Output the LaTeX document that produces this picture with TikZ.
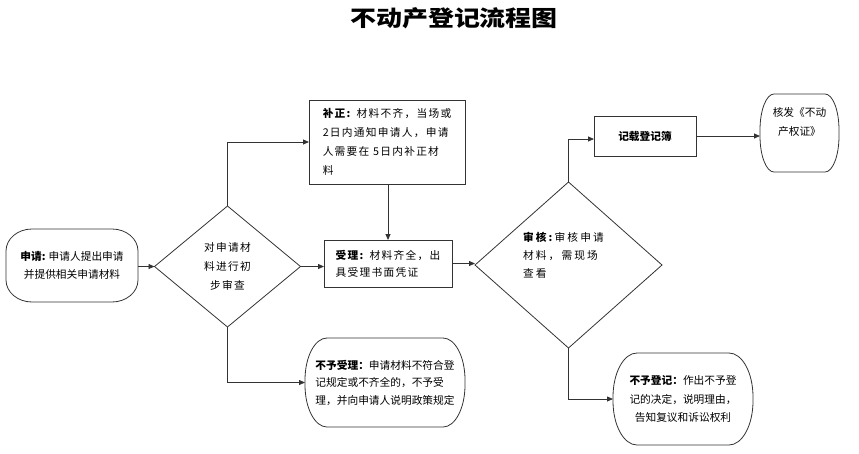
\documentclass[tikz,border=0pt]{standalone}
\usepackage{fontspec}
\usepackage{graphicx}
\setmainfont{Noto Sans CJK SC}
\newfontfamily\spfont[LetterSpace=12]{Noto Sans CJK SC}
\newfontfamily\spwfont[LetterSpace=20]{Noto Sans CJK SC}
\usetikzlibrary{shapes.geometric,arrows.meta}
\newcommand\ovbox[3]{%
  \draw[line] ([xshift=#2]#1.north west) -- ([xshift=-#2]#1.north east)
    arc[start angle=90,end angle=0,x radius=#2,y radius=#3]
    -- ([yshift=#3]#1.south east)
    arc[start angle=0,end angle=-90,x radius=#2,y radius=#3]
    -- ([xshift=#2]#1.south west)
    arc[start angle=270,end angle=180,x radius=#2,y radius=#3]
    -- ([yshift=-#3]#1.north west)
    arc[start angle=180,end angle=90,x radius=#2,y radius=#3] -- cycle;}
\begin{document}
\begin{tikzpicture}[x=1pt,y=-1pt,
  every node/.style={inner sep=0pt,outer sep=0pt,text=black},
  line/.style={draw=black!80,line width=0.8pt},
  box/.style={line,rectangle},
  obox/.style={rectangle,draw=none},
  dia/.style={line,diamond},
  conn/.style={line,-{Triangle[length=6pt,width=5pt]}},
  txt/.style={font=\fontsize{10.7}{18.5}\selectfont},
  sptxt/.style={font=\fontsize{10.7}{19}\spfont},
]
\useasboundingbox (0,0) rectangle (859,453);

\node (title) at (454,18) {\scalebox{1.18}[1]{\fontsize{22}{22}\selectfont\bfseries 不动产登记流程图}};

% start box
\node[obox,minimum width=132pt,minimum height=73pt,txt,align=center] (sq) at (72,265.5)
  {\textbf{申请:} 申请人提出申请\\并提供相关申请材料};
\ovbox{sq}{26pt}{22pt}

% first diamond
\node[dia,minimum width=146pt,minimum height=121pt,sptxt,align=center] (d1) at (227.5,266.5)
  {对申请材\\料进行初\\步审查};

% 补正
\node[box,minimum width=156pt,minimum height=84pt,sptxt,align=left] (bz) at (387,142)
  {\textbf{补正:} 材料不齐，当场或\\2日内通知申请人，申请\\人需要在 5日内补正材\\料};

% 受理
\node[box,minimum width=128pt,minimum height=47pt,font=\fontsize{10.7}{17}\spfont,align=left] (sl) at (388,263.5)
  {\textbf{受理:} 材料齐全，出\\具受理书面凭证};

% second diamond
\node[dia,minimum width=187pt,minimum height=166pt] (d2) at (568.5,265) {};
\node[anchor=west,font=\fontsize{10.7}{18}\spwfont,align=left] (d2t) at (523,255)
  {\textbf{审核:}审核申请\\材料，需现场\\查看};

% 记载登记簿
\node[box,minimum width=102pt,minimum height=40pt,txt] (jz) at (645,136)
  {\textbf{记载登记簿}};

% 核发
\node[obox,minimum width=79pt,minimum height=78pt,font=\fontsize{10.7}{19}\selectfont,align=center] (hf) at (799.5,133)
  {核发《不动\\产权证》\\[4pt]};
\ovbox{hf}{14pt}{36pt}

% 不予受理
\node[obox,minimum width=160pt,minimum height=89pt,font=\fontsize{10.7}{17.5}\selectfont,align=left] (bysl) at (385,382.5)
  {\textbf{不予受理：}申请材料不符合登\\记规定或不齐全的，不予受\\理，并向申请人说明政策规定};
\ovbox{bysl}{22pt}{42pt}

% 不予登记
\node[obox,minimum width=140pt,minimum height=92pt,font=\fontsize{10.7}{18.5}\selectfont,align=center] (bydj) at (683,399)
  {\textbf{不予登记：}作出不予登\\记的决定，说明理由，\\告知复议和诉讼权利};
\ovbox{bydj}{24pt}{44pt}

% connectors
\draw[conn] (sq.east |- d1.west) -- (d1.west);
\draw[conn] (d1.north) |- (bz.west);
\draw[conn] (d1.east) -- (d1.east -| sl.west);
\draw[conn] (bz.south -| sl.north) -- (sl.north);
\draw[conn] (d1.south) |- (bysl.west);
\draw[conn] (sl.east) -- (sl.east -| d2.west);
\draw[conn] (d2.north) |- ([yshift=-3pt]jz.west);
\draw[conn] (jz.east) -- (jz.east -| hf.west);
\draw[conn] (d2.south) |- (bydj.west);
\end{tikzpicture}
\end{document}
